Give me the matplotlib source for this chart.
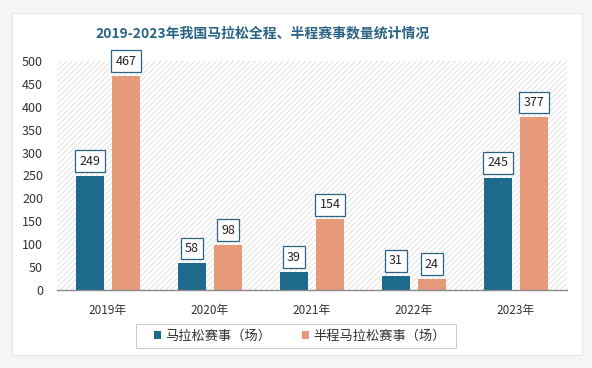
import matplotlib
matplotlib.use("Agg")
import matplotlib.pyplot as plt
from matplotlib.patches import Rectangle
import numpy as np

plt.rcParams['font.family'] = ['Noto Sans CJK SC', 'DejaVu Sans']
plt.rcParams['hatch.linewidth'] = 0.6
plt.rcParams['hatch.color'] = '#dcdcdc'

years = ["2019年", "2020年", "2021年", "2022年", "2023年"]
full = [249, 58, 39, 31, 245]
half = [467, 98, 154, 24, 377]
series_names = ["马拉松赛事（场）", "半程马拉松赛事（场）"]
title = "2019-2023年我国马拉松全程、半程赛事数量统计情况"
yticks = [0, 50, 100, 150, 200, 250, 300, 350, 400, 450, 500]

c_dark = '#1d6a8c'
c_orange = '#e69a7a'
c_title = '#2b6482'

fig = plt.figure(figsize=(5.92, 3.68), dpi=100)
fig.patch.set_facecolor('#f5f5f5')
# card
card = Rectangle((12/592, 1-355/368), (582-12)/592, (355-13)/368, transform=fig.transFigure,
                 facecolor='white', edgecolor='#e6e6e6', linewidth=0.8, zorder=-5)
fig.patches.append(card)

ax = fig.add_axes([57/592, 78/368, 510/592, 229/368])
ax.set_zorder(2)
ax.set_facecolor('none')
ax.add_patch(Rectangle((0, 0), 1, 1, transform=ax.transAxes, facecolor='white',
                       hatch='//////', edgecolor='#dedede', linewidth=0, zorder=0))

x = np.arange(len(years))
w = 0.275
off = 0.176
b1 = ax.bar(x - off, full, w, color=c_dark, zorder=2, label=series_names[0])
b2 = ax.bar(x + off, half, w, color=c_orange, zorder=2, label=series_names[1])

for bars, vals in ((b1, full), (b2, half)):
    for rect, v in zip(bars, vals):
        ax.annotate(str(v), (rect.get_x() + rect.get_width()/2, v), xytext=(0, 6),
                    textcoords='offset points', ha='center', va='bottom', fontsize=9,
                    color='#222222', zorder=5,
                    bbox=dict(boxstyle='square,pad=0.35', facecolor='white', edgecolor=c_title, linewidth=0.9))

ax.set_xlim(-0.5, len(years) - 0.5)
ax.set_ylim(0, 500)
ax.set_yticks(yticks)
ax.set_yticklabels([str(t) for t in yticks], fontsize=9, color='#333333')
ax.set_xticks(x)
ax.set_xticklabels(years, fontsize=8.5, color='#333333')
ax.tick_params(axis='both', length=0)
ax.tick_params(axis='y', pad=10)
ax.tick_params(axis='x', pad=10)
for s in ['top', 'right', 'left']:
    ax.spines[s].set_visible(False)
ax.spines['bottom'].set_color('#8a8a8a')
ax.spines['bottom'].set_linewidth(1)

fig.text(263/592, 1-33/368, title, ha='center', va='center', fontsize=10, fontweight='bold', color=c_title)

# legend frame drawn manually
lf = Rectangle((136/592, 1-348/368), (456-136)/592, 24/368, transform=fig.transFigure,
               facecolor='white', edgecolor='#cccccc', linewidth=0.8, zorder=3)
fig.patches.append(lf)
leg = fig.legend(handles=[b1, b2], loc='center', bbox_to_anchor=(300/592, 1-336/368), ncol=2,
                 fontsize=9.5, frameon=False,
                 handlelength=0.5, handleheight=0.5, handletextpad=0.35, columnspacing=2.3,
                 borderpad=0.2)
leg.set_zorder(4)
for t in leg.get_texts():
    t.set_color('#333333')

fig.savefig('out.png', dpi=100, facecolor=fig.get_facecolor())
